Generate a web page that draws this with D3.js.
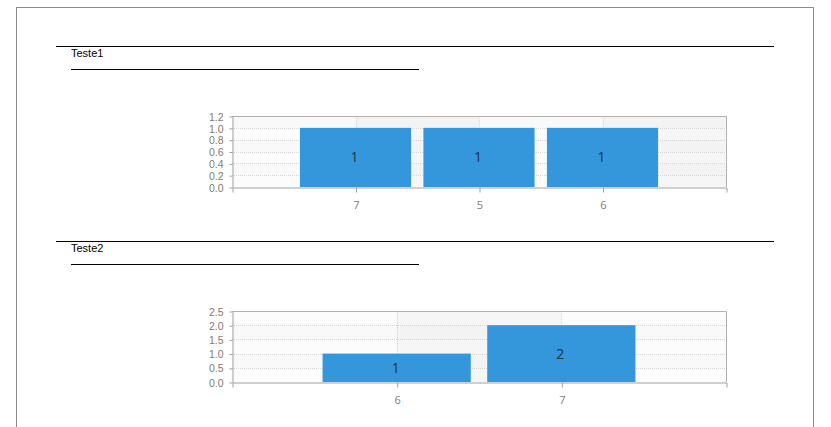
<!DOCTYPE html>
<html>
<head>
<meta charset="utf-8">
<script src="https://cdn.jsdelivr.net/npm/d3@7/dist/d3.min.js"></script>
<style>
  html, body { margin: 0; padding: 0; background: #fff; }
  svg { display: block; }
</style>
</head>
<body>
<svg id="chart" width="831" height="427"></svg>
<script>
// ---- data ----
const titles = ["Teste1", "Teste2"];
const chart1Categories = ["7", "5", "6"];
const chart1Values = [1, 1, 1];
const chart1Ticks = [0, 0.2, 0.4, 0.6, 0.8, 1.0, 1.2];
const chart2Categories = ["6", "7"];
const chart2Values = [1, 2];
const chart2Ticks = [0, 0.5, 1.0, 1.5, 2.0, 2.5];

const svg = d3.select("#chart");

// page frame
svg.append("rect")
  .attr("x", 16.5).attr("y", 7.5).attr("width", 797).attr("height", 440)
  .attr("fill", "none").attr("stroke", "#8c8c8c").attr("stroke-width", 1);

function drawSection(top, title, cats, vals, ticks) {
  const g = svg.append("g");
  // header rules and title
  g.append("line").attr("x1", 56).attr("x2", 774).attr("y1", top + 0.5).attr("y2", top + 0.5)
    .attr("stroke", "#000").attr("stroke-width", 1);
  g.append("text").attr("x", 71).attr("y", top + 11)
    .attr("font-family", "Liberation Sans, Arial, sans-serif").attr("font-size", 11)
    .attr("fill", "#000").text(title);
  g.append("line").attr("x1", 71).attr("x2", 419).attr("y1", top + 23.5).attr("y2", top + 23.5)
    .attr("stroke", "#000").attr("stroke-width", 1);

  const left = 232, right = 726, ptop = top + 70, pbot = top + 141;
  const x = d3.scalePoint().domain(cats).range([left, right]).padding(1);
  const y = d3.scaleLinear().domain([0, d3.max(ticks)]).range([pbot, ptop]);
  const step = x.step();
  const barW = step * 0.9;

  // column shading
  const colEdges = [left].concat(cats.map(c => x(c))).concat([right]);
  for (let i = 0; i < colEdges.length - 1; i++) {
    g.append("rect").attr("x", colEdges[i]).attr("y", ptop)
      .attr("width", colEdges[i + 1] - colEdges[i]).attr("height", pbot - ptop)
      .attr("fill", i % 2 === 1 ? "#f6f6f6" : "#fcfcfc");
  }
  // row shading
  for (let i = 0; i < ticks.length - 1; i++) {
    if (i % 2 === 1) {
      g.append("rect").attr("x", left).attr("y", y(ticks[i + 1]))
        .attr("width", right - left).attr("height", y(ticks[i]) - y(ticks[i + 1]))
        .attr("fill", "rgba(0,0,0,0.01)");
    }
  }
  // grid lines
  g.selectAll(".hg").data(ticks.slice(1, -1)).enter().append("line")
    .attr("x1", left).attr("x2", right)
    .attr("y1", d => Math.round(y(d)) + 0.5).attr("y2", d => Math.round(y(d)) + 0.5)
    .attr("stroke", "#d6d6d6").attr("stroke-dasharray", "1,1");
  g.selectAll(".vg").data(cats).enter().append("line")
    .attr("x1", d => Math.round(x(d)) + 0.5).attr("x2", d => Math.round(x(d)) + 0.5)
    .attr("y1", ptop).attr("y2", pbot)
    .attr("stroke", "#d6d6d6").attr("stroke-dasharray", "1,1");

  // bars
  g.selectAll(".bar").data(cats).enter().append("rect")
    .attr("x", (d) => x(d) - barW / 2)
    .attr("y", (d, i) => y(vals[i]))
    .attr("width", barW)
    .attr("height", (d, i) => y(0) - y(vals[i]))
    .attr("fill", "#3597db");
  g.selectAll(".lbl").data(cats).enter().append("text")
    .attr("x", d => x(d) - 1)
    .attr("y", (d, i) => (y(vals[i]) + y(0)) / 2 + 5)
    .attr("text-anchor", "middle")
    .attr("font-family", "Open Sans, DejaVu Sans, sans-serif").attr("font-size", 14)
    .attr("fill", "#22303c")
    .text((d, i) => vals[i]);

  // plot frame top/right
  g.append("path")
    .attr("d", `M${left},${ptop + 0.5}H${right + 0.5}V${pbot}`)
    .attr("fill", "none").attr("stroke", "#b0b0b0");

  // axes
  const xAxis = d3.axisBottom(x).tickSize(5).tickSizeOuter(5).tickPadding(9);
  const gx = g.append("g").attr("transform", `translate(0.5,${pbot + 0.5})`).call(xAxis);
  const yAxis = d3.axisLeft(y).tickValues(ticks).tickFormat(d3.format(".1f")).tickSize(3).tickSizeOuter(0).tickPadding(6);
  const gy = g.append("g").attr("transform", `translate(${left + 0.5},0.5)`).call(yAxis);
  [gx, gy].forEach(a => {
    a.selectAll("path, line").attr("stroke", "#a0a0a0");
    a.selectAll("text").attr("fill", "#857a70")
      .attr("font-family", "Open Sans, DejaVu Sans, sans-serif").attr("font-size", 11);
  });
  gy.selectAll("text")
    .attr("font-family", "Liberation Sans, Arial, sans-serif")
    .attr("font-size", 10.5).attr("dy", "0.35em");
}

drawSection(46, titles[0], chart1Categories, chart1Values, chart1Ticks);
drawSection(241, titles[1], chart2Categories, chart2Values, chart2Ticks);
</script>
</body>
</html>
